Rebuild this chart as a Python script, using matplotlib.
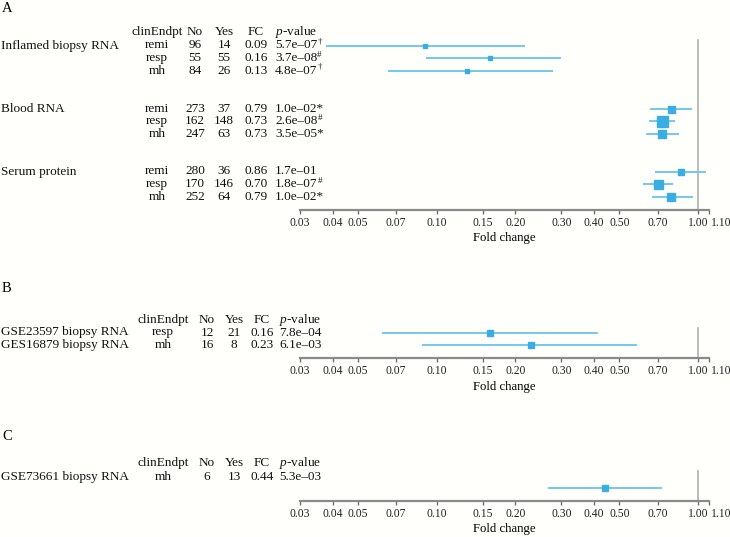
import matplotlib
matplotlib.use("Agg")
import matplotlib.pyplot as plt
import matplotlib.transforms as mtransforms

plt.rcParams['font.family'] = ['Liberation Serif', 'DejaVu Serif']
plt.rcParams['mathtext.fontset'] = 'custom'
plt.rcParams['mathtext.rm'] = 'Liberation Serif'
plt.rcParams['mathtext.it'] = 'Liberation Serif:italic'

# ---- data ----
a_groups = ["Inflamed biopsy RNA", "Blood RNA", "Serum protein"]
a_endpt = ["remi", "resp", "mh"] * 3
a_no = [96, 55, 84, 273, 162, 247, 280, 170, 252]
a_yes = [14, 55, 26, 37, 148, 63, 36, 146, 64]
a_fc = [0.09, 0.16, 0.13, 0.79, 0.73, 0.73, 0.86, 0.70, 0.79]
a_pval = ["5.7e–07", "3.7e–08", "4.8e–07", "1.0e–02", "2.6e–08", "3.5e–05",
          "1.7e–01", "1.8e–07", "1.0e–02"]
a_sig = ["†", "#", "†", "*", "#", "*", "", "#", "*"]
a_lo = [0.0376, 0.091, 0.0653, 0.652, 0.65, 0.632, 0.686, 0.615, 0.666]
a_hi = [0.217, 0.299, 0.279, 0.945, 0.813, 0.847, 1.071, 0.804, 0.953]
a_box = [4.5, 4.5, 4.5, 7, 11, 7.5, 5.5, 9, 7.5]

b_labels = ["GSE23597 biopsy RNA", "GES16879 biopsy RNA"]
b_endpt = ["resp", "mh"]
b_no = [12, 16]
b_yes = [21, 8]
b_fc = [0.16, 0.23]
b_pval = ["7.8e–04", "6.1e–03"]
b_sig = ["", ""]
b_lo = [0.0616, 0.0876]
b_hi = [0.413, 0.582]
b_box = [6, 6]

c_labels = ["GSE73661 biopsy RNA"]
c_endpt = ["mh"]
c_no = [6]
c_yes = [13]
c_fc = [0.44]
c_pval = ["5.3e–03"]
c_sig = [""]
c_lo = [0.266]
c_hi = [0.729]
c_box = [6.5]

ticks = [0.03, 0.04, 0.05, 0.07, 0.10, 0.15, 0.20, 0.30, 0.40, 0.50, 0.70, 1.00, 1.10]

W, H = 730, 537
BG = '#fffffb'
fig = plt.figure(figsize=(W / 100, H / 100), dpi=100, facecolor=BG)

LINE = '#74c7ee'
BOX = '#3aade2'
FS = 9.5


def panel(letter, letter_y, header_y, row0_y, step, rows, axis_y, vtop_y,
          labels, label_rows, endpt, no, yes, fc, pval, sig, lo, hi, box,
          cols, mark_shift=0.0):
    # axes: x 300..709 px, bottom at axis_y
    top_y = header_y - 10
    ax = fig.add_axes([300 / W, 1 - axis_y / H, 409 / W, (axis_y - top_y) / H])
    ax.set_facecolor('none')
    ax.set_xscale('log')
    ax.set_xlim(0.03, 1.10)
    ax.set_ylim((axis_y - row0_y) / step, (top_y - row0_y) / step)
    for s in ['top', 'right', 'left']:
        ax.spines[s].set_visible(False)
    ax.spines['bottom'].set_color('#8a8a8a')
    ax.spines['bottom'].set_linewidth(1.6)
    ax.set_yticks([])
    ax.set_xticks(ticks)
    ax.set_xticklabels([f"{t:.2f}" for t in ticks])
    ax.minorticks_off()
    ax.tick_params(axis='x', colors='#6e6e6e', length=3.2, width=1.0, labelsize=8.4,
                   labelcolor='#222222', pad=2.2)
    last = ax.get_xticklabels()[-1]
    last.set_horizontalalignment('left')
    last.set_transform(last.get_transform() +
                       mtransforms.ScaledTranslation(2 / 100, 0, fig.dpi_scale_trans))
    ax.set_xlabel("Fold change", fontsize=9.2, labelpad=2.5)
    ax.axvline(1.0, ymin=0, ymax=(axis_y - vtop_y) / (axis_y - top_y),
               color='#b0b0b0', lw=1.2, zorder=1)

    tr = mtransforms.blended_transform_factory(fig.transFigure, ax.transData)
    hy = (header_y - row0_y) / step
    kw = dict(transform=tr, fontsize=FS, va='center', clip_on=False, color='#111111')
    ax.text(cols[0] / W, hy, "clinEndpt", ha='center', **kw)
    ax.text(cols[1] / W, hy, "No", ha='center', **kw)
    ax.text(cols[2] / W, hy, "Yes", ha='center', **kw)
    ax.text(cols[3] / W, hy, "FC", ha='center', **kw)
    ax.text(cols[4] / W, hy, "$p$-value", ha='left', **kw)
    for lab, r in zip(labels, label_rows):
        ax.text(1 / W, r, lab, ha='left', **kw)
    for i, r in enumerate(rows):
        ax.text(cols[0] / W, r, endpt[i], ha='center', **kw)
        ax.text(cols[1] / W, r, str(no[i]), ha='center', **kw)
        ax.text(cols[2] / W, r, str(yes[i]), ha='center', **kw)
        ax.text(cols[3] / W, r, f"{fc[i]:.2f}", ha='center', **kw)
        if sig[i] == "*":
            ax.text(cols[4] / W, r, pval[i] + "*", ha='left', **kw)
        else:
            t = ax.text(cols[4] / W, r, pval[i], ha='left', **kw)
            if sig[i]:
                ax.annotate(sig[i], xy=(1.0, 0.78), xycoords=t, fontsize=6.5,
                            ha='left', va='center', color='#111111',
                            annotation_clip=False)
        y = r + mark_shift
        ax.plot([lo[i], hi[i]], [y, y], color=LINE, lw=1.4, solid_capstyle='butt', zorder=2)
        ax.plot([fc[i]], [y], marker='s', ms=box[i] * 0.72, color=BOX,
                mec=BOX, zorder=3)

    fig.text(2 / W, 1 - letter_y / H, letter, fontsize=FS + 1, va='center', ha='left')
    return ax


a_rows = [0, 1, 2, 5, 6, 7, 10, 11, 12]
panel("A", 8, 32, 45.5, 12.6, a_rows, 209.5, 40,
      a_groups, [0, 5, 10], a_endpt, a_no, a_yes, a_fc, a_pval, a_sig, a_lo, a_hi, a_box,
      [157, 195, 224, 256, 275])

panel("B", 288, 320, 332.5, 12.5, [0, 1], 358, 328,
      b_labels, [0, 1], b_endpt, b_no, b_yes, b_fc, b_pval, b_sig, b_lo, b_hi, b_box,
      [163, 207, 234, 262, 279])

panel("C", 437, 463, 477, 12.5, [0], 500.5, 471,
      c_labels, [0], c_endpt, c_no, c_yes, c_fc, c_pval, c_sig, c_lo, c_hi, c_box,
      [163, 207, 234, 262, 279], mark_shift=0.9)

fig.savefig("out.png", dpi=100, facecolor=BG)
